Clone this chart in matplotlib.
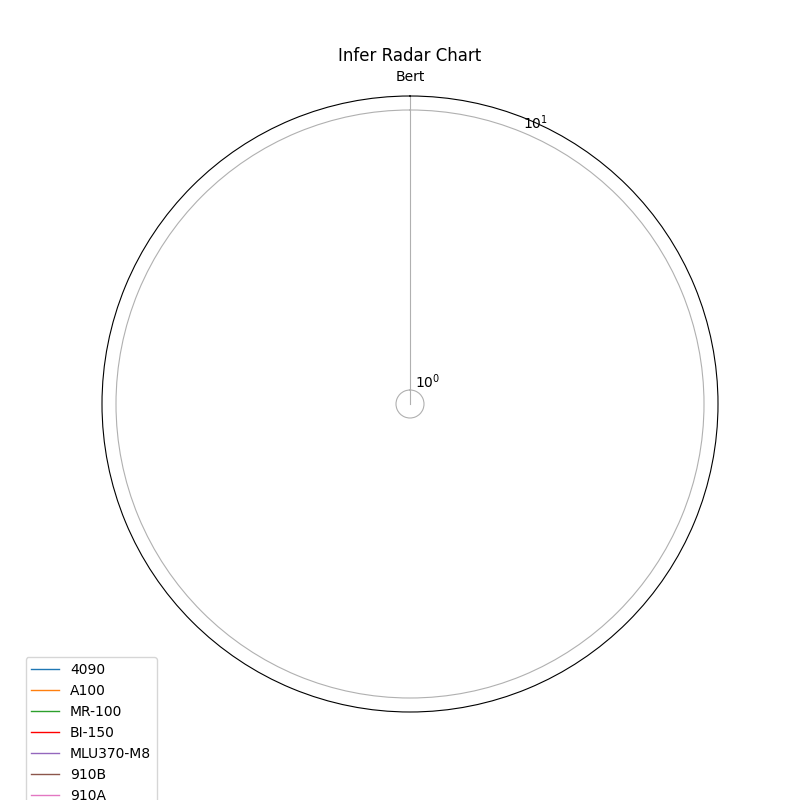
import numpy as np
import matplotlib
matplotlib.use('Agg')
import matplotlib.pyplot as plt

# 模型类别 (only one)
labels = ['Bert']
devices = ['4090', 'A100', 'MR-100', 'BI-150', 'MLU370-M8', '910B', '910A']
# normalized infer score per device
scores = [[10.0], [7.2], [2.1], [2.6], [1.0], [4.3], [3.1]]
colors = ['#1f77b4', '#ff7f0e', '#2ca02c', 'red', '#9467bd', '#8c564b', '#e377c2']

angles = np.linspace(0, 2 * np.pi, len(labels), endpoint=False).tolist()
angles += angles[:1]

fig = plt.figure(figsize=(8, 8), dpi=100)
ax = fig.add_subplot(111, polar=True)
ax.set_theta_offset(np.pi / 2)
ax.set_theta_direction(-1)

for i in range(len(devices)):
    vals = scores[i] + scores[i][:1]
    ax.plot(angles, vals, linewidth=1, label=devices[i], color=colors[i])

ax.set_yscale('log')
ax.set_thetagrids(np.degrees(angles[:-1]), labels)
ax.set_title('Infer Radar Chart')
ax.legend(loc='upper right', bbox_to_anchor=(0.1, 0.1))

plt.savefig('out.png')
